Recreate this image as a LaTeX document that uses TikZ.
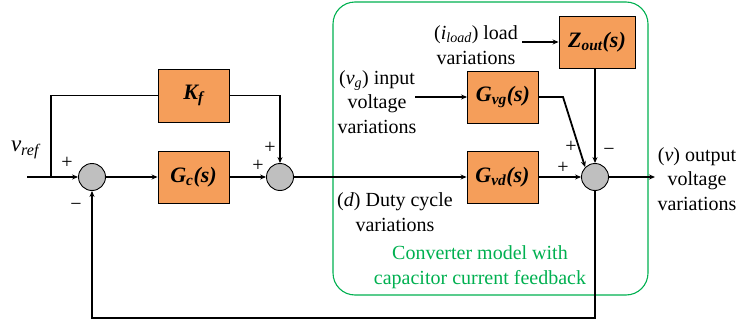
\documentclass[tikz,border=0pt]{standalone}
\usepackage{fontspec}
\setmainfont{Liberation Serif}
\usetikzlibrary{arrows.meta}
\definecolor{boxor}{RGB}{245,158,90}
\definecolor{sumgray}{RGB}{191,191,191}
\definecolor{grn}{RGB}{0,176,80}
\begin{document}
\begin{tikzpicture}[x=1pt,y=-1pt,
  font=\fontsize{20}{24.5}\selectfont,
  blk/.style={draw, line width=0.9pt, fill=boxor, minimum width=71pt, minimum height=52pt, inner sep=0pt,
    font=\fontsize{22}{24}\selectfont\bfseries\itshape},
  sumc/.style={circle, draw, line width=0.9pt, fill=sumgray, minimum size=27pt, inner sep=0pt},
  sig/.style={line width=1.8pt, -{Stealth[length=6pt,width=5pt]}},
  thinsig/.style={line width=1.2pt, -{Stealth[length=6pt,width=5pt]}},
  thinplain/.style={line width=1.2pt},
  lbl/.style={align=center, inner sep=0pt},
  sgn/.style={inner sep=0pt, font=\fontsize{20}{24}\selectfont}]
\useasboundingbox (0,0) rectangle (739,324);

% converter frame
\draw[grn, line width=1.1pt, rounded corners=22pt] (333,2) rectangle (648,295);

% blocks
\node[sumc] (s1) at (92,177) {};
\node[sumc] (s2) at (280,177) {};
\node[sumc] (s3) at (595,177) {};
\node[blk] (gc) at (193.5,177) {G\textsubscript{c}(s)};
\node[blk, minimum height=53pt] (kf) at (193.5,95.5) {K\textsubscript{f}};
\node[blk] (gvd) at (502.5,177) {G\textsubscript{vd}(s)};
\node[blk] (gvg) at (503,97) {G\textsubscript{vg}(s)};
\node[blk, minimum width=76pt] (zout) at (597,42) {Z\textsubscript{out}(s)};

% coordinates
\coordinate (in) at (27,177);
\coordinate (br) at (51,177);
\coordinate (out) at (655,177);
\coordinate (il) at (522,42);
\coordinate (vgin) at (415,97);
\coordinate (gvgk) at (563,97);
\coordinate (fb) at (92,318);

% connectors
\draw[sig] (in) -- (s1.west);
\draw[thinplain] (br) |- (kf.west);
\draw[thinsig] (kf.east) -| (s2.north);
\draw[sig] (s1.east) -- (gc.west);
\draw[sig] (gc.east) -- (s2.west);
\draw[sig] (s2.east) -- (gvd.west);
\draw[sig] (gvd.east) -- (s3.west);
\draw[sig] (s3.east) -- (out);
\draw[sig] (gvg.east) -- (gvgk) -- (s3.north west);
\draw[sig] (s3.north |- zout.south) -- (s3.north);
\draw[sig] (il) -- (zout.west);
\draw[sig] (vgin) -- (gvg.west);
\draw[thinsig] (s3.south) |- (fb) -- (s1.south);

% signs
\node[sgn] at (67,163) {+};
\node[sgn] at (76,207) {−};
\node[sgn] at (270,148) {+};
\node[sgn] at (258,166) {+};
\node[sgn] at (571,147) {+};
\node[sgn] at (563,168) {+};
\node[sgn] at (609,152) {−};

% labels
\node[lbl, font=\fontsize{23}{24}\selectfont] at (25,150) {\textit{v\textsubscript{ref}}};
\node[lbl] at (476,45) {(\textit{i\textsubscript{load}}) load\\variations};
\node[lbl] at (377,102) {(\textit{v\textsubscript{g}}) input\\voltage\\variations};
\node[lbl] at (395,212) {(\textit{d}) Duty cycle\\variations};
\node[lbl, text=grn] at (480,267) {Converter model with\\capacitor current feedback};
\node[lbl] at (697,179) {(\textit{v}) output\\voltage\\variations};
\end{tikzpicture}
\end{document}
